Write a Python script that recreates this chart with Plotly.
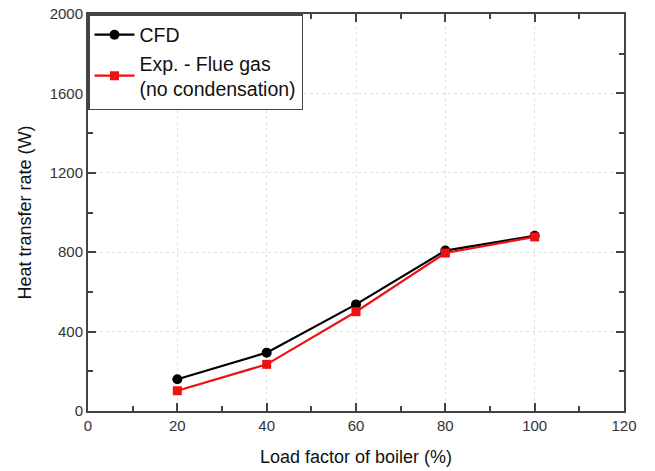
import plotly.graph_objects as go

load = [20, 40, 60, 80, 100]
cfd = [160, 294, 537, 808, 883]
exp_flue = [102, 235, 500, 796, 877]

x_ticks = [0, 20, 40, 60, 80, 100, 120]
y_ticks = [0, 400, 800, 1200, 1600, 2000]

FONT = "Liberation Sans, Arial"

fig = go.Figure()
fig.add_trace(go.Scatter(x=load, y=cfd, mode="lines+markers", name="CFD",
                         line=dict(color="black", width=2.2),
                         marker=dict(symbol="circle", size=10, color="black")))
fig.add_trace(go.Scatter(x=load, y=exp_flue, mode="lines+markers",
                         name="Exp. - Flue gas<br>(no condensation)",
                         line=dict(color="#ee1111", width=2.2),
                         marker=dict(symbol="square", size=9, color="#ee1111")))

axis_common = dict(showline=True, linecolor="#444", linewidth=2, mirror="allticks",
                   ticks="inside", ticklen=8, tickwidth=1.5, tickcolor="#444",
                   showgrid=True, gridcolor="#e0e0e0", griddash="dot", gridwidth=1,
                   zeroline=False, automargin=False,
                   tickfont=dict(family=FONT, size=15, color="#333"),
                   title_font=dict(family=FONT, size=18, color="#111"))

fig.update_xaxes(range=[0, 120], tickvals=x_ticks, title_text="Load factor of boiler (%)",
                 minor=dict(ticks="inside", ticklen=5, dtick=10, tickcolor="#444", showgrid=False),
                 title_standoff=17, **axis_common)
fig.update_yaxes(range=[0, 2000], tickvals=y_ticks, title_text="Heat transfer rate (W)",
                 minor=dict(ticks="inside", ticklen=5, dtick=200, tickcolor="#444", showgrid=False),
                 title_standoff=13, **axis_common)

fig.update_layout(width=655, height=471, plot_bgcolor="white", paper_bgcolor="white",
                  margin=dict(l=88, r=31, t=14, b=60),
                  showlegend=True,
                  legend=dict(x=0.0, y=1.0, xanchor="left", yanchor="top",
                              bgcolor="white", bordercolor="#444", borderwidth=1.5,
                              font=dict(family=FONT, size=19.5, color="#111"),
                              tracegroupgap=0, itemwidth=40))

fig.write_html("out.html")
